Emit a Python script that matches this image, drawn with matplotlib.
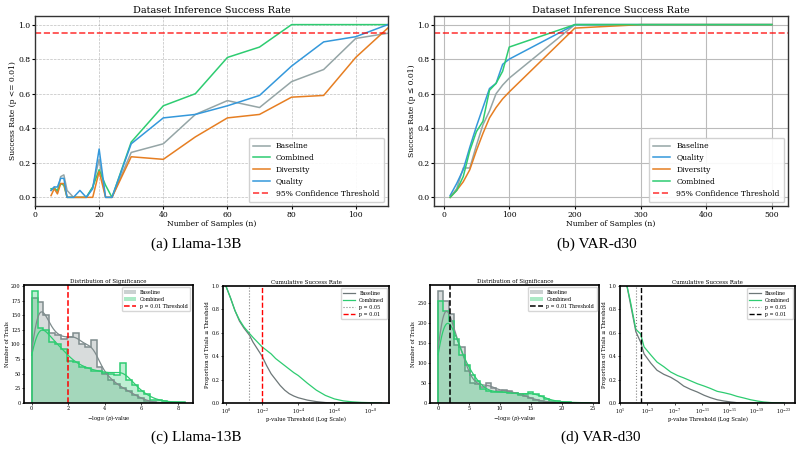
import numpy as np
import matplotlib
matplotlib.use('Agg')
import matplotlib.pyplot as plt
from matplotlib.patches import Patch
from matplotlib.lines import Line2D

plt.rcParams['font.family'] = 'DejaVu Serif'
plt.rcParams['mathtext.fontset'] = 'dejavuserif'

GRAY = '#7f8c8d'
GREEN = '#2ecc71'
ORANGE = '#e67e22'
BLUE = '#3498db'

# (a) Llama-13B: success rate vs number of samples
llama_n = [5, 6, 7, 8, 9, 10, 12, 14, 16, 18, 20, 22, 24, 30, 40, 50, 60, 70, 80, 90, 100, 110]
llama_baseline = [0.04, 0.06, 0.03, 0.12, 0.13, 0.04, 0.0, 0.0, 0.0, 0.06, 0.22, 0.0, 0.0,
                  0.26, 0.31, 0.48, 0.56, 0.52, 0.67, 0.74, 0.92, 0.95]
llama_combined = [0.05, 0.05, 0.04, 0.08, 0.07, 0.0, 0.0, 0.0, 0.0, 0.06, 0.16, 0.07, 0.0,
                  0.32, 0.53, 0.60, 0.81, 0.87, 1.0, 1.0, 1.0, 1.0]
llama_diversity = [0.01, 0.05, 0.02, 0.08, 0.08, 0.0, 0.0, 0.0, 0.0, 0.0, 0.15, 0.0, 0.0,
                   0.235, 0.22, 0.35, 0.46, 0.48, 0.58, 0.59, 0.81, 0.98]
llama_quality = [0.04, 0.06, 0.06, 0.11, 0.11, 0.0, 0.0, 0.04, 0.0, 0.05, 0.28, 0.0, 0.0,
                 0.31, 0.46, 0.48, 0.53, 0.59, 0.76, 0.90, 0.93, 1.0]

# (b) VAR-d30
var_n = [10, 20, 30, 40, 50, 60, 70, 80, 90, 100, 200, 300, 400, 500]
var_baseline = [0.0, 0.05, 0.17, 0.17, 0.30, 0.42, 0.50, 0.60, 0.65, 0.69, 1.0, 1.0, 1.0, 1.0]
var_quality = [0.01, 0.08, 0.16, 0.29, 0.41, 0.52, 0.63, 0.66, 0.77, 0.80, 1.0, 1.0, 1.0, 1.0]
var_diversity = [0.0, 0.04, 0.09, 0.16, 0.27, 0.37, 0.46, 0.52, 0.57, 0.61, 0.98, 1.0, 1.0, 1.0]
var_combined = [0.0, 0.04, 0.12, 0.27, 0.38, 0.44, 0.62, 0.66, 0.73, 0.87, 1.0, 1.0, 1.0, 1.0]

# (c) Llama-13B: histogram of -log10(p)
hist_c_edges = np.linspace(0, 8.4, 27)
hist_c_baseline = [180, 173, 150, 120, 117, 110, 112, 120, 100, 96, 108, 62, 50, 40, 32, 25,
                   20, 14, 8, 4, 2, 0, 0, 0, 0, 0]
hist_c_combined = [192, 128, 125, 105, 100, 92, 72, 70, 62, 60, 55, 55, 52, 50, 48, 68,
                   40, 30, 20, 15, 6, 5, 3, 2, 1, 1]

# (c) cumulative success rate (thresholds given as -log10 p)
cum_c_logp = [0, 0.25, 0.5, 0.75, 1.0, 1.3, 1.5, 1.75, 2.0, 2.25, 2.5, 2.75, 3.0, 3.25, 3.5,
              3.75, 4.0, 4.5, 5.0, 5.5, 6.0, 6.5, 7.0, 7.5, 8.0, 8.6]
cum_c_baseline = [1.0, 0.9, 0.79, 0.70, 0.64, 0.58, 0.52, 0.46, 0.40, 0.32, 0.25, 0.20, 0.15,
                  0.11, 0.08, 0.06, 0.045, 0.025, 0.012, 0.004, 0.0, 0.0, 0.0, 0.0, 0.0, 0.0]
cum_c_combined = [1.0, 0.9, 0.79, 0.71, 0.65, 0.595, 0.56, 0.52, 0.48, 0.45, 0.42, 0.38, 0.35,
                  0.32, 0.29, 0.26, 0.235, 0.17, 0.11, 0.065, 0.035, 0.018, 0.01, 0.005, 0.003, 0.0]

# (d) VAR-d30: histogram of -log10(p)
hist_d_edges = np.linspace(0, 24.8, 30)
hist_d_baseline = [280, 255, 222, 145, 140, 80, 50, 48, 40, 50, 38, 30, 32, 30, 25, 22, 18,
                   12, 8, 5, 3, 2, 1, 0, 0, 0, 0, 0, 0]
hist_d_combined = [255, 228, 205, 160, 120, 95, 70, 55, 35, 30, 28, 27, 28, 25, 25, 20, 22,
                   28, 22, 18, 10, 6, 4, 3, 2, 1, 1, 1, 1]

# (d) cumulative success rate
cum_d_logp = [0, 0.5, 1.0, 1.3, 2.0, 2.5, 3.5, 4.4, 5.4, 6.4, 7.4, 8.3, 9.3, 10.3, 11.3, 12.2,
              13.2, 14.2, 15.2, 16.1, 17.1, 18.1, 19.1, 20, 21, 22, 23]
cum_d_baseline = [1.0, 0.85, 0.70, 0.61, 0.52, 0.42, 0.34, 0.28, 0.245, 0.22, 0.185, 0.145,
                  0.117, 0.094, 0.066, 0.046, 0.028, 0.017, 0.009, 0.003, 0.0, 0.0, 0.0, 0.0,
                  0.0, 0.0, 0.0]
cum_d_combined = [1.0, 0.87, 0.72, 0.63, 0.59, 0.48, 0.41, 0.35, 0.31, 0.265, 0.235, 0.215,
                  0.19, 0.165, 0.145, 0.125, 0.1, 0.088, 0.074, 0.057, 0.043, 0.028, 0.017,
                  0.009, 0.004, 0.001, 0.0]
cum_d_ticks = [1e1, 1e-3, 1e-7, 1e-11, 1e-15, 1e-19, 1e-23]


def weighted_kde(edges, counts, grid):
    """Gaussian KDE of the binned data (Scott bandwidth), scaled to counts."""
    centers = (edges[:-1] + edges[1:]) / 2
    w = np.asarray(counts, dtype=float)
    n = w.sum()
    mean = np.sum(w * centers) / n
    std = np.sqrt(np.sum(w * (centers - mean) ** 2) / n)
    bw = std * n ** (-1 / 5)
    dens = np.exp(-0.5 * ((grid[:, None] - centers[None, :]) / bw) ** 2) @ w
    dens /= (n * bw * np.sqrt(2 * np.pi))
    return dens * n * (edges[1] - edges[0])


def success_plot(ax, n, series, ylabel, grid_style):
    for label, y, color in series:
        ax.plot(n, y, color=color, lw=1.1, label=label)
    ax.axhline(0.95, color='red', ls='--', lw=1.2, alpha=0.75, label='95% Confidence Threshold')
    ax.set_title('Dataset Inference Success Rate', fontsize=7, pad=2)
    ax.set_xlabel('Number of Samples (n)', fontsize=5.5, labelpad=1)
    ax.set_ylabel(ylabel, fontsize=5.5, labelpad=1)
    ax.set_ylim(-0.05, 1.05)
    ax.tick_params(labelsize=5.5, length=2, pad=1.5)
    ax.grid(**grid_style)
    for s in ax.spines.values():
        s.set_color('#333333')
        s.set_linewidth(1.0)
    ax.legend(loc='lower right', fontsize=5.5, handlelength=2.2, borderpad=0.6,
              labelspacing=0.5, framealpha=0.9)


def hist_plot(ax, edges, base, comb, thr_color, xlim, yticks):
    grid = np.linspace(edges[0], edges[-1], 300)
    handles = []
    for counts, color, label in [(base, GRAY, 'Baseline'), (comb, GREEN, 'Combined')]:
        ax.stairs(counts, edges, fill=True, color=color, alpha=0.3, lw=0)
        ax.stairs(counts, edges, color=color, lw=1.1)
        ax.plot(grid, weighted_kde(edges, counts, grid), color=color, lw=0.9)
        handles.append(Patch(facecolor=color, alpha=0.4, label=label))
    ax.axvline(2, color=thr_color, ls='--', lw=1.1)
    handles.append(Line2D([], [], color=thr_color, ls='--', lw=1.1, label='p = 0.01 Threshold'))
    ax.set_xlim(*xlim)
    ax.set_yticks(yticks)
    ax.set_title('Distribution of Significance', fontsize=4, pad=1.5)
    ax.set_xlabel(r'$-\log_{10}(p)$-value', fontsize=3.8, labelpad=1)
    ax.set_ylabel('Number of Trials', fontsize=3.8, labelpad=1)
    ax.tick_params(labelsize=3.5, length=1.5, pad=1, width=0.5)
    for s in ax.spines.values():
        s.set_linewidth(1.2)
    ax.legend(handles=handles, loc='upper right', fontsize=3.5, handlelength=2.5,
              borderpad=0.5, labelspacing=0.4)


def cum_plot(ax, logp, base, comb, thr_color, xlim):
    p = 10.0 ** -np.asarray(logp)
    ax.plot(p, base, color='#6d7778', lw=0.9, label='Baseline')
    ax.plot(p, comb, color=GREEN, lw=0.9, label='Combined')
    ax.axvline(0.05, color='gray', ls=':', lw=0.8, label='p = 0.05')
    ax.axvline(0.01, color=thr_color, ls='--', lw=1.0, label='p = 0.01')
    ax.set_xscale('log')
    ax.set_xlim(*xlim)
    ax.set_ylim(0, 1)
    ax.set_title('Cumulative Success Rate', fontsize=4, pad=1.5)
    ax.set_xlabel('p-value Threshold (Log Scale)', fontsize=3.8, labelpad=1)
    ax.set_ylabel('Proportion of Trials ≤ Threshold', fontsize=3.8, labelpad=1)
    ax.tick_params(labelsize=3.5, length=1.5, pad=1, width=0.5)
    ax.tick_params(which='minor', length=0)
    for s in ax.spines.values():
        s.set_linewidth(1.2)
    ax.legend(loc='upper right', fontsize=3.5, handlelength=2.5, borderpad=0.5,
              labelspacing=0.4)


fig = plt.figure(figsize=(8, 4.54), dpi=100)

ax_a = fig.add_axes([0.04375, 0.5463, 0.441, 0.4185])
success_plot(ax_a, llama_n,
             [('Baseline', llama_baseline, '#95a5a6'),
              ('Combined', llama_combined, GREEN),
              ('Diversity', llama_diversity, ORANGE),
              ('Quality', llama_quality, BLUE)],
             'Success Rate (p <= 0.01)',
             dict(ls='--', lw=0.5, color='gray', alpha=0.5))
ax_a.set_xlim(0, 110)

ax_b = fig.add_axes([0.5425, 0.5463, 0.4425, 0.4185])
success_plot(ax_b, var_n,
             [('Baseline', var_baseline, '#95a5a6'),
              ('Quality', var_quality, BLUE),
              ('Diversity', var_diversity, ORANGE),
              ('Combined', var_combined, GREEN)],
             'Success Rate (p ≤ 0.01)',
             dict(ls='-', lw=0.8, color='#bbbbbb'))
ax_b.set_xticks([0, 100, 200, 300, 400, 500])

ax_c1 = fig.add_axes([0.03, 0.1123, 0.211, 0.26])
hist_plot(ax_c1, hist_c_edges, hist_c_baseline, hist_c_combined, 'red', (-0.42, 8.82),
          np.arange(0, 201, 25))
ax_c2 = fig.add_axes([0.279, 0.1123, 0.2075, 0.2577])
cum_plot(ax_c2, cum_c_logp, cum_c_baseline, cum_c_combined, 'red', (10 ** 0.15, 10 ** -9.03))

ax_d1 = fig.add_axes([0.538, 0.1123, 0.211, 0.26])
hist_plot(ax_d1, hist_d_edges, hist_d_baseline, hist_d_combined, 'black', (-1.24, 26.0),
          np.arange(0, 251, 50))
ax_d2 = fig.add_axes([0.775, 0.1123, 0.21875, 0.2577])
cum_plot(ax_d2, cum_d_logp, cum_d_baseline, cum_d_combined, 'black', (10 ** 1.02, 10 ** -24.6))
ax_d2.set_xticks(cum_d_ticks)

cap = dict(ha='center', va='center', fontsize=11, family='Liberation Serif')
fig.text(0.2456, 0.4626, '(a) Llama-13B', **cap)
fig.text(0.746, 0.4626, '(b) VAR-d30', **cap)
fig.text(0.2456, 0.0374, '(c) Llama-13B', **cap)
fig.text(0.751, 0.0374, '(d) VAR-d30', **cap)

fig.savefig('out.png', dpi=100)
